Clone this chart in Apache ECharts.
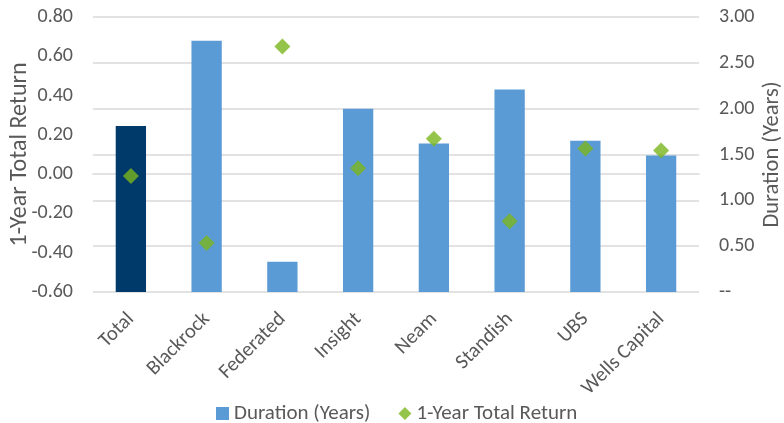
<!DOCTYPE html>
<html><head><meta charset="utf-8">
<script src="https://cdn.jsdelivr.net/npm/echarts@6/dist/echarts.min.js"></script>
<style>html,body{margin:0;padding:0;background:#fff}#c{width:784px;height:423px}</style>
</head><body><div id="c"></div>
<script>
const categories = ["Total","Blackrock","Federated","Insight","Neam","Standish","UBS","Wells Capital"];
const duration = [1.81, 2.74, 0.33, 2.00, 1.62, 2.21, 1.65, 1.49];
const totalReturn = [-0.01, -0.35, 0.65, 0.03, 0.18, -0.24, 0.13, 0.12];
const leftTicks = [-0.6, 0.8, 0.2];
const rightTicks = [0, 3, 0.5];

const font = "Carlito, 'Open Sans', 'Liberation Sans', sans-serif";
const chart = echarts.init(document.getElementById('c'), null, {renderer:'canvas'});
chart.setOption({
  animation:false,
  grid:{left:93, right:85, top:17, bottom:131, containLabel:false, outerBoundsMode:'none'},
  legend:{
    bottom:-6, left:211, itemGap:28, itemWidth:13, itemHeight:13,
    textStyle:{fontFamily:font, fontSize:21, color:'#595959'},
    data:[{name:'Duration (Years)', icon:'rect', itemStyle:{color:'#5B9BD5'}},
          {name:'1-Year Total Return', icon:'diamond', itemStyle:{color:'#7AB51D'}}]
  },
  xAxis:{type:'category', data:categories,
    axisLine:{lineStyle:{color:'#d9d9d9', width:1.5}}, axisTick:{show:false},
    axisLabel:{rotate:45, fontFamily:font, fontSize:20.5, color:'#595959', margin:24}},
  yAxis:[
    {type:'value', min:leftTicks[0], max:leftTicks[1], interval:leftTicks[2],
     name:'1-Year Total Return', nameLocation:'middle', nameGap:73, nameRotate:90,
     nameMoveOverlap:false,
     nameTextStyle:{fontFamily:font, fontSize:24, color:'#595959', verticalAlign:'middle'},
     splitLine:{show:false}, axisLine:{show:false}, axisTick:{show:false},
     axisLabel:{fontFamily:font, fontSize:20, color:'#595959', margin:20,
       formatter:v=>Number(v).toFixed(2)}},
    {type:'value', min:rightTicks[0], max:rightTicks[1], interval:rightTicks[2],
     name:'Duration (Years)', nameLocation:'middle', nameGap:73, nameRotate:90,
     nameMoveOverlap:false,
     nameTextStyle:{fontFamily:font, fontSize:22.5, color:'#595959', verticalAlign:'middle'},
     splitLine:{show:true, lineStyle:{color:'#d9d9d9', width:1.5}},
     axisLine:{show:false}, axisTick:{show:false},
     axisLabel:{fontFamily:font, fontSize:20, color:'#595959', margin:20,
       formatter:v=> v===0 ? '--' : Number(v).toFixed(2)}}
  ],
  series:[
    {name:'Duration (Years)', type:'bar', yAxisIndex:1, barWidth:'40%',
     data:duration.map((v,i)=>({value:v, itemStyle:{color: i===0 ? '#003A6B' : '#5B9BD5'}}))},
    {name:'1-Year Total Return', type:'scatter', yAxisIndex:0, symbol:'diamond', symbolSize:16,
     itemStyle:{color:'#7AB51D'}, z:5, data:totalReturn}
  ]
});
</script></body></html>
